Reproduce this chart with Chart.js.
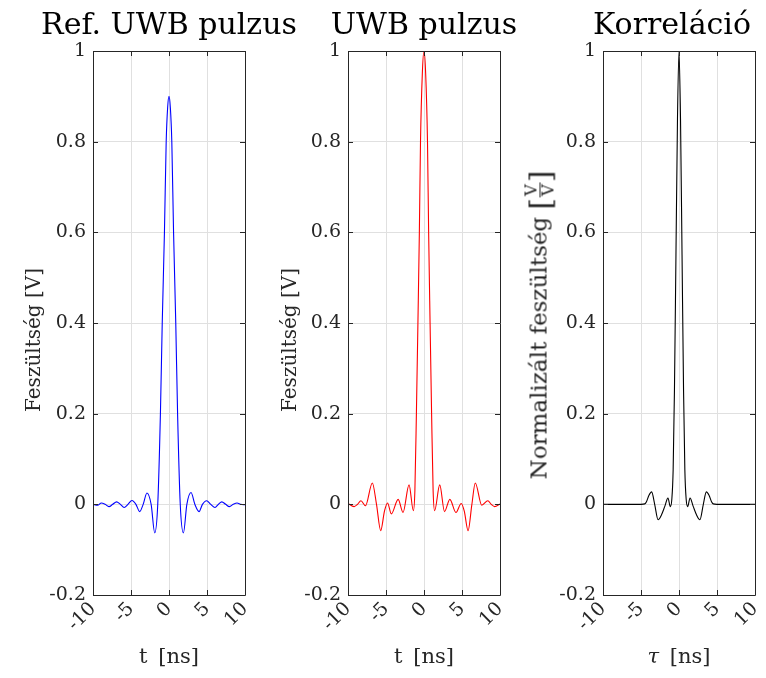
<!DOCTYPE html>
<html>
<head>
<meta charset="utf-8">
<script src="https://cdn.jsdelivr.net/npm/chart.js@4.4.1/dist/chart.umd.min.js"></script>
<style>
  html, body { margin:0; padding:0; background:#fff; }
  body { width:766px; height:678px; position:relative; overflow:hidden; font-family:'DejaVu Serif', serif; color:#000; }
  canvas { position:absolute; top:0; }
  .ttl { position:absolute; top:6px; font-size:30px; white-space:nowrap; transform:translateX(-50%); }
  .xl { position:absolute; top:644px; font-size:21px; white-space:nowrap; transform:translateX(-50%); color:#262626; word-spacing:4px; }
  .yl { position:absolute; font-size:20px; white-space:nowrap; transform:translate(-50%,-50%) rotate(-90deg); color:#262626; }
  .yl.big { font-size:23px; }
  .frac { display:inline-block; vertical-align:middle; text-align:center; font-size:16px; line-height:16px; }
  .frac span { display:block; }
  .frac .num { border-bottom:1px solid #262626; padding:0 2px; }
  .br { font-size:30px; vertical-align:middle; }
</style>
</head>
<body>
<canvas id="c1" width="256" height="678" style="left:0px"></canvas>
<canvas id="c2" width="256" height="678" style="left:256px"></canvas>
<canvas id="c3" width="254" height="678" style="left:512px"></canvas>

<div class="ttl" style="left:169px">Ref. UWB pulzus</div>
<div class="ttl" style="left:424px">UWB pulzus</div>
<div class="ttl" style="left:672px">Korreláció</div>

<div class="xl" style="left:169px">t [ns]</div>
<div class="xl" style="left:424px">t [ns]</div>
<div class="xl" style="left:679px"><i>τ</i> [ns]</div>

<div class="yl" style="left:33px; top:340px">Feszültség [V]</div>
<div class="yl" style="left:289px; top:340px">Feszültség [V]</div>
<div class="yl big" style="left:540px; top:325px">Normalizált feszültség <span class="br">[</span><span class="frac"><span class="num">V</span><span>V</span></span><span class="br">]</span></div>

<script>
// ---- data ----
const refT = [-10, -9.4, -8.9, -8.4, -7.9, -7.4, -6.9, -6.4, -5.9, -5.4, -4.87, -4.35, -3.86, -3.4, -2.9, -2.35, -1.88, -1.48, -1.13, -0.89, -0.6, -0.37, -0.18, 0,
              0.18, 0.37, 0.6, 0.89, 1.13, 1.48, 1.9, 2.35, 2.9, 3.4, 3.95, 4.4, 4.95, 5.5, 6.05, 6.5, 6.95, 7.45, 7.95, 8.45, 8.95, 9.45, 10];
const refV = [0.0, -0.002, 0.003, 0.0, -0.005, 0.0, 0.0055, 0.0, -0.007, 0.0, 0.0085, 0.0, -0.016, 0.0, 0.025, 0.0, -0.063, 0.0, 0.2, 0.4, 0.6, 0.8, 0.875, 0.9,
              0.875, 0.8, 0.6, 0.4, 0.2, 0.0, -0.063, 0.0, 0.026, 0.0, -0.016, 0.0, 0.008, 0.0, -0.007, 0.0, 0.0055, 0.0, -0.005, 0.0, 0.003, 0.0, -0.001];

const uwbT = [-10, -9.2, -8.75, -8.3, -7.7, -6.8, -6.25, -5.7, -5.2, -4.8, -4.3, -3.4, -2.76, -1.97, -1.4, -1.2, -1.0, -0.8, -0.61, -0.46, -0.22, 0,
              0.22, 0.46, 0.61, 0.8, 1.0, 1.2, 1.4, 2.07, 2.7, 3.4, 4.2, 4.9, 5.3, 5.8, 6.3, 6.75, 7.6, 8.4, 8.85, 9.3, 10];
const uwbV = [0.002, -0.005, 0.0, 0.008, -0.003, 0.047, 0.0, -0.058, -0.015, 0.003, -0.021, 0.011, -0.018, 0.043, -0.014, 0.03, 0.2, 0.4, 0.6, 0.8, 0.95, 1.0,
              0.95, 0.8, 0.6, 0.4, 0.2, 0.03, -0.014, 0.043, -0.016, 0.011, -0.018, 0.002, -0.015, -0.058, 0.0, 0.047, -0.002, 0.008, 0.0, -0.005, 0.001];

const corT = [-10, -5, -4.5, -4.3, -3.95, -3.6, -3.2, -2.75, -2.3, -1.88, -1.45, -1.14, -0.95, -0.77, -0.6, -0.4, -0.2, 0,
              0.2, 0.4, 0.6, 0.77, 0.95, 1.14, 1.45, 1.88, 2.3, 2.75, 3.2, 3.6, 3.95, 4.3, 4.5, 5, 10];
const corV = [0, 0, 0.001, 0.005, 0.02, 0.0275, 0.0, -0.034, -0.023, -0.005, 0.014, -0.005, 0.01, 0.076, 0.25, 0.55, 0.85, 1.0,
              0.85, 0.55, 0.25, 0.076, 0.01, -0.005, 0.014, -0.005, -0.023, -0.034, 0.0, 0.0275, 0.02, 0.005, 0.001, 0, 0];

const xTickLabels = ['-10', '-5', '0', '5', '10'];
const yTickLabels = ['-0.2', '0', '0.2', '0.4', '0.6', '0.8', '1'];

// ---- drawing ----
const AXIS = '#262626';
const GRID = '#e0e0e0';
const FONT = 'DejaVu Serif';

const boxTicks = {
  id: 'boxTicks',
  afterDatasetsDraw(chart) {
    const ctx = chart.ctx, a = chart.chartArea;
    const xs = chart.scales.x, ys = chart.scales.y;
    ctx.save();
    ctx.strokeStyle = AXIS;
    ctx.lineWidth = 1;
    ctx.beginPath();
    ctx.rect(Math.round(a.left) + 0.5, Math.round(a.top) + 0.5, Math.round(a.right - a.left), Math.round(a.bottom - a.top));
    const L = 5;
    xs.ticks.forEach(t => {
      const px = Math.round(xs.getPixelForValue(t.value)) + 0.5;
      ctx.moveTo(px, a.bottom); ctx.lineTo(px, a.bottom - L);
      ctx.moveTo(px, a.top); ctx.lineTo(px, a.top + L);
    });
    ys.ticks.forEach(t => {
      const py = Math.round(ys.getPixelForValue(t.value)) + 0.5;
      ctx.moveTo(a.left, py); ctx.lineTo(a.left + L, py);
      ctx.moveTo(a.right, py); ctx.lineTo(a.right - L, py);
    });
    ctx.stroke();
    ctx.restore();
  }
};

function makeChart(id, T, V, color, yWidth, padRight) {
  const pts = T.map((t, i) => ({ x: t, y: V[i] }));
  return new Chart(document.getElementById(id), {
    type: 'line',
    data: { datasets: [{ data: pts, borderColor: color, borderWidth: 1.1, pointRadius: 0, fill: false, cubicInterpolationMode: 'monotone' }] },
    options: {
      responsive: false, animation: false, devicePixelRatio: 1,
      layout: { padding: { top: 51, right: padRight, bottom: 0, left: 0 } },
      plugins: { legend: { display: false }, tooltip: { enabled: false } },
      scales: {
        x: {
          type: 'linear', min: -10, max: 10,
          ticks: { stepSize: 5, minRotation: 45, maxRotation: 45, padding: 3, color: AXIS,
                   font: { family: FONT, size: 19 },
                   callback: (v, i) => xTickLabels[i] },
          grid: { color: GRID, drawTicks: false, lineWidth: 1 },
          border: { display: false },
          afterFit(s) { s.height = 678 - 595; s.paddingLeft = 0; s.paddingRight = 0; }
        },
        y: {
          min: -0.2, max: 1,
          ticks: { stepSize: 0.2, padding: 7, color: AXIS, font: { family: FONT, size: 19 },
                   callback: (v, i) => yTickLabels[i] },
          grid: { color: GRID, drawTicks: false, lineWidth: 1 },
          border: { display: false },
          afterFit(s) { s.width = yWidth; s.paddingTop = 0; s.paddingBottom = 0; }
        }
      }
    },
    plugins: [boxTicks]
  });
}

makeChart('c1', refT, refV, '#0000ff', 93, 11);
makeChart('c2', uwbT, uwbV, '#ff0000', 92, 12);
makeChart('c3', corT, corV, '#000000', 91, 11);
</script>
</body>
</html>
